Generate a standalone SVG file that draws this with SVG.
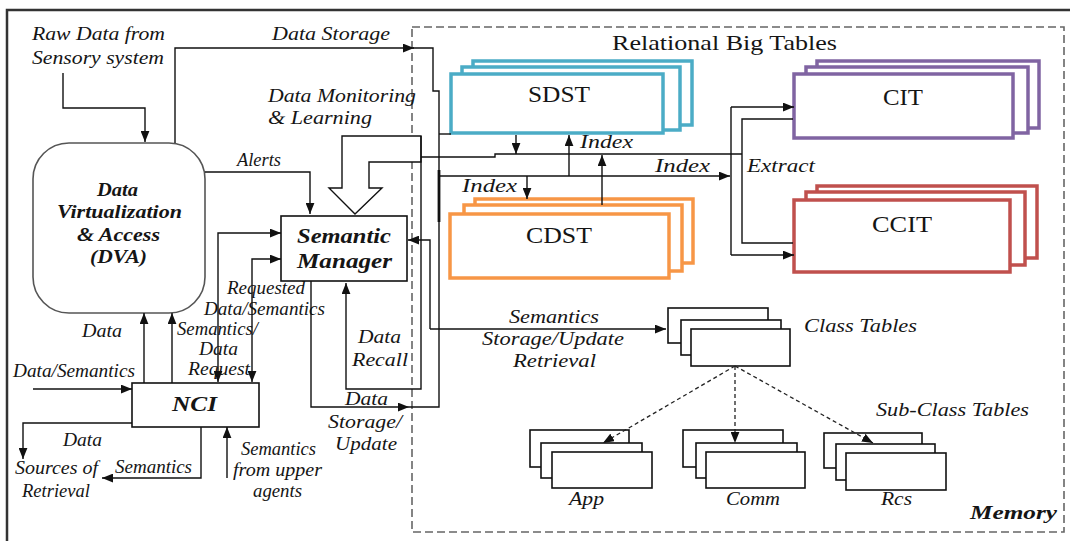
<svg xmlns="http://www.w3.org/2000/svg" width="1070" height="541" viewBox="0 0 1070 541">
<style>
text{font-family:"Liberation Serif","Times New Roman",serif;fill:#151515}
.i{font-style:italic;font-size:18px}
.bi{font-style:italic;font-weight:bold;font-size:18px}
.r{font-size:21px}
.big{font-size:24px}
.ln{fill:none;stroke:#111;stroke-width:1.4}
.dash{fill:none;stroke:#222;stroke-width:1.3;stroke-dasharray:4,3}
.sm rect{fill:#fff;stroke:#111;stroke-width:1.6}
.cy rect{fill:#fff;stroke:#4BACC6;stroke-width:3.5}
.or rect{fill:#fff;stroke:#F79646;stroke-width:3.5}
.pu rect{fill:#fff;stroke:#8064A2;stroke-width:3.5}
.rd rect{fill:#fff;stroke:#C0504D;stroke-width:3.5}
</style>
<defs>
<marker id="ah" viewBox="0 0 10 8" refX="10" refY="4" markerWidth="11" markerHeight="9" markerUnits="userSpaceOnUse" orient="auto-start-reverse"><path d="M0,0 L10,4 L0,8 Z" fill="#111"/></marker>
</defs>
<rect width="1070" height="541" fill="#fff"/>
<rect x="7" y="10" width="1090" height="560" fill="none" stroke="#333" stroke-width="2.5"/>
<g id="memory">
<rect x="412" y="27" width="652" height="505" fill="none" stroke="#666" stroke-width="1.6" stroke-dasharray="8,4"/>
<text class="bi" x="970" y="519" textLength="87" lengthAdjust="spacingAndGlyphs">Memory</text>
<text class="r" x="612" y="50" textLength="225" lengthAdjust="spacingAndGlyphs">Relational Big Tables</text>
</g>
<g id="labels">
<text class="i" x="32" y="40" textLength="133" lengthAdjust="spacingAndGlyphs">Raw Data from</text>
<text class="i" x="32" y="64" textLength="132" lengthAdjust="spacingAndGlyphs">Sensory system</text>
<text class="i" x="272" y="40" textLength="118" lengthAdjust="spacingAndGlyphs">Data Storage</text>
<text class="i" x="268" y="102" textLength="148" lengthAdjust="spacingAndGlyphs">Data Monitoring</text>
<text class="i" x="268" y="124" textLength="104" lengthAdjust="spacingAndGlyphs">&amp; Learning</text>
<text class="i" x="237" y="166" textLength="44" lengthAdjust="spacingAndGlyphs">Alerts</text>
<text class="i" x="227" y="294" textLength="78" lengthAdjust="spacingAndGlyphs">Requested</text>
<text class="i" x="204" y="315" textLength="121" lengthAdjust="spacingAndGlyphs">Data/Semantics</text>
<text class="i" x="177" y="335" textLength="81" lengthAdjust="spacingAndGlyphs">Semantics/</text>
<text class="i" x="199" y="355" textLength="39" lengthAdjust="spacingAndGlyphs">Data</text>
<text class="i" x="188" y="375" textLength="62" lengthAdjust="spacingAndGlyphs">Request</text>
<text class="i" x="82" y="337" textLength="40" lengthAdjust="spacingAndGlyphs">Data</text>
<text class="i" x="13" y="377" textLength="122" lengthAdjust="spacingAndGlyphs">Data/Semantics</text>
<text class="i" x="63" y="446" textLength="39" lengthAdjust="spacingAndGlyphs">Data</text>
<text class="i" x="15" y="474" textLength="83" lengthAdjust="spacingAndGlyphs">Sources of</text>
<text class="i" x="22" y="497" textLength="68" lengthAdjust="spacingAndGlyphs">Retrieval</text>
<text class="i" x="115" y="473" textLength="77" lengthAdjust="spacingAndGlyphs">Semantics</text>
<text class="i" x="241" y="455" textLength="75" lengthAdjust="spacingAndGlyphs">Semantics</text>
<text class="i" x="233" y="476" textLength="89" lengthAdjust="spacingAndGlyphs">from upper</text>
<text class="i" x="253" y="497" textLength="49" lengthAdjust="spacingAndGlyphs">agents</text>
<text class="i" x="358" y="343" textLength="43" lengthAdjust="spacingAndGlyphs">Data</text>
<text class="i" x="352" y="366" textLength="56" lengthAdjust="spacingAndGlyphs">Recall</text>
<text class="i" x="345" y="405" textLength="43" lengthAdjust="spacingAndGlyphs">Data</text>
<text class="i" x="328" y="428" textLength="74" lengthAdjust="spacingAndGlyphs">Storage/</text>
<text class="i" x="335" y="450" textLength="62" lengthAdjust="spacingAndGlyphs">Update</text>
<text class="i" x="580" y="148" textLength="53" lengthAdjust="spacingAndGlyphs">Index</text>
<text class="i" x="655" y="172" textLength="55" lengthAdjust="spacingAndGlyphs">Index</text>
<text class="i" x="462" y="192" textLength="55" lengthAdjust="spacingAndGlyphs">Index</text>
<text class="i" x="747" y="172" textLength="68" lengthAdjust="spacingAndGlyphs">Extract</text>
<text class="i" x="509" y="323" textLength="90" lengthAdjust="spacingAndGlyphs">Semantics</text>
<text class="i" x="482" y="345" textLength="142" lengthAdjust="spacingAndGlyphs">Storage/Update</text>
<text class="i" x="513" y="367" textLength="83" lengthAdjust="spacingAndGlyphs">Retrieval</text>
</g>
<g id="dva">
<rect x="33" y="143" width="172" height="170" rx="36" fill="#fff" stroke="#555" stroke-width="1.6"/>
<text class="bi" x="97" y="196" textLength="41" lengthAdjust="spacingAndGlyphs">Data</text>
<text class="bi" x="57" y="218" textLength="125" lengthAdjust="spacingAndGlyphs">Virtualization</text>
<text class="bi" x="77" y="241" textLength="83" lengthAdjust="spacingAndGlyphs">&amp; Access</text>
<text class="bi" x="90" y="263" textLength="57" lengthAdjust="spacingAndGlyphs">(DVA)</text>
</g>
<g id="semantic-manager">
<rect x="281" y="216" width="126" height="65" fill="#fff" stroke="#111" stroke-width="1.6"/>
<text class="bi" x="297" y="243" style="font-size:20px" textLength="94" lengthAdjust="spacingAndGlyphs">Semantic</text>
<text class="bi" x="297" y="268" style="font-size:20px" textLength="95" lengthAdjust="spacingAndGlyphs">Manager</text>
</g>
<g id="nci">
<rect x="132" y="383" width="127" height="44" fill="#fff" stroke="#111" stroke-width="1.6"/>
<text class="bi" x="172" y="411" style="font-size:22px" textLength="45" lengthAdjust="spacingAndGlyphs">NCI</text>
</g>
<g id="sdst" class="cy">
<rect x="473" y="61" width="219" height="64"/>
<rect x="462" y="67" width="218" height="63"/>
<rect x="451" y="74" width="212" height="59"/>
<text class="big" x="528" y="102" textLength="62" lengthAdjust="spacingAndGlyphs">SDST</text>
</g>
<g id="cdst" class="or">
<rect x="475" y="199" width="218" height="64"/>
<rect x="464" y="205" width="218" height="66"/>
<rect x="450" y="214" width="219" height="64"/>
<text class="big" x="526" y="243" textLength="66" lengthAdjust="spacingAndGlyphs">CDST</text>
</g>
<g id="cit" class="pu">
<rect x="817" y="61" width="222" height="67"/>
<rect x="806" y="67" width="222" height="66"/>
<rect x="794" y="74" width="219" height="64"/>
<text class="big" x="883" y="105" textLength="40" lengthAdjust="spacingAndGlyphs">CIT</text>
</g>
<g id="ccit" class="rd">
<rect x="817" y="186" width="220" height="72"/>
<rect x="806" y="192" width="219" height="73"/>
<rect x="794" y="200" width="216" height="72"/>
<text class="big" x="872" y="232" textLength="60" lengthAdjust="spacingAndGlyphs">CCIT</text>
</g>
<g id="class-tables" class="sm">
<rect x="668" y="308" width="100" height="35"/>
<rect x="681" y="320" width="100" height="35"/>
<rect x="691" y="329" width="99" height="37"/>
<text class="i" x="804" y="332" textLength="113" lengthAdjust="spacingAndGlyphs">Class Tables</text>
</g>
<g id="sub-class-label">
<text class="i" x="876" y="416" textLength="153" lengthAdjust="spacingAndGlyphs">Sub-Class Tables</text>
</g>
<g id="app" class="sm">
<rect x="530" y="430" width="99" height="37"/>
<rect x="541" y="443" width="101" height="35"/>
<rect x="552" y="452" width="100" height="36"/>
<text class="i" x="569" y="505" textLength="35" lengthAdjust="spacingAndGlyphs">App</text>
</g>
<g id="comm" class="sm">
<rect x="683" y="430" width="100" height="37"/>
<rect x="696" y="443" width="101" height="35"/>
<rect x="706" y="452" width="99" height="36"/>
<text class="i" x="726" y="505" textLength="54" lengthAdjust="spacingAndGlyphs">Comm</text>
</g>
<g id="rcs" class="sm">
<rect x="824" y="433" width="98" height="35"/>
<rect x="836" y="444" width="99" height="36"/>
<rect x="846" y="453" width="100" height="37"/>
<text class="i" x="881" y="505" textLength="31" lengthAdjust="spacingAndGlyphs">Rcs</text>
</g>
<g id="connectors">
<path class="ln" d="M63,73 V108 H145 V142" marker-end="url(#ah)"/>
<path class="ln" d="M175,143 V48 H414" marker-end="url(#ah)"/>
<path class="ln" d="M413,48 H433 V91 H439 V407 H409"/>
<path class="ln" d="M311,281 V407 H409" marker-end="url(#ah)"/>
<path class="ln" d="M439,134 H451"/>
<line x1="439" y1="170" x2="439" y2="222" stroke="#111" stroke-width="2.8"/>
<path class="ln" d="M205,172 H310 V214" marker-end="url(#ah)"/>
<path d="M421,136 H342 V188 H329 L355,214 L382,188 H369 V162 H421 Z" fill="#fff" stroke="#111" stroke-width="1.4"/>
<path class="ln" d="M421,136 V389 H346 V283" marker-end="url(#ah)"/>
<path class="ln" d="M421,157 H495 V154 H742"/>
<path class="ln" d="M516,135 V154" marker-end="url(#ah)"/>
<path class="ln" d="M439,176 H730" marker-end="url(#ah)"/>
<path class="ln" d="M569,176 V135" marker-end="url(#ah)"/>
<path class="ln" d="M527,176 V199" marker-end="url(#ah)"/>
<path class="ln" d="M602,205 V155" marker-end="url(#ah)"/>
<path class="ln" d="M731,107 V255"/>
<path class="ln" d="M731,107 H794" marker-end="url(#ah)"/>
<path class="ln" d="M731,255 H794" marker-end="url(#ah)"/>
<path class="ln" d="M793,119 H742 V243 H793"/>
<path class="ln" d="M430,329 V240 H408" marker-end="url(#ah)"/>
<path class="ln" d="M430,329 H666" marker-end="url(#ah)"/>
<path class="ln" d="M144,383 V313" marker-end="url(#ah)"/>
<path class="ln" d="M172,383 V313" marker-end="url(#ah)"/>
<path class="ln" d="M218,382 V233 H281" marker-start="url(#ah)" marker-end="url(#ah)"/>
<path class="ln" d="M252,382 V259 H281" marker-start="url(#ah)" marker-end="url(#ah)"/>
<path class="ln" d="M33,389 H132" marker-end="url(#ah)"/>
<path class="ln" d="M132,423 H23 V459" marker-end="url(#ah)"/>
<path class="ln" d="M201,427 V478 H102" marker-end="url(#ah)"/>
<path class="ln" d="M227,478 V427" marker-end="url(#ah)"/>
<path class="dash" d="M735,366 L603,443" marker-end="url(#ah)"/>
<path class="dash" d="M735,366 V443" marker-end="url(#ah)"/>
<path class="dash" d="M735,366 L873,443" marker-end="url(#ah)"/>
</g>
</svg>
